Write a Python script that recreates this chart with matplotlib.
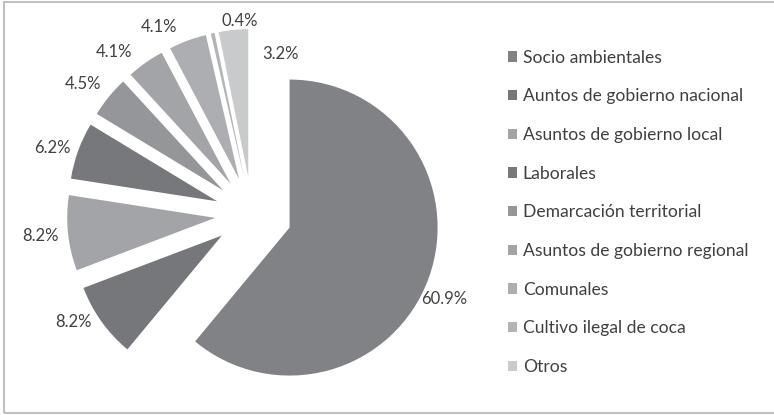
import numpy as np
import matplotlib
matplotlib.use("Agg")
import matplotlib.pyplot as plt
from matplotlib.patches import Rectangle

plt.rcParams['font.family'] = ['Lato', 'DejaVu Sans']

# data
categorias = ['Socio ambientales', 'Auntos de gobierno nacional', 'Asuntos de gobierno local',
              'Laborales', 'Demarcación territorial', 'Asuntos de gobierno regional',
              'Comunales', 'Cultivo ilegal de coca', 'Otros']
porcentajes = [60.9, 8.2, 8.2, 6.2, 4.5, 4.1, 4.1, 0.4, 3.2]

# style
colores = ['#818286', '#76777b', '#a3a4a7', '#77787c', '#95969a',
           '#a3a4a7', '#adaeb1', '#b3b4b6', '#c9cacc']
explode = [0.27, 0.25, 0.25, 0.25, 0.25, 0.25, 0.25, 0.25, 0.25]
# where each percentage label sits (angle shift from slice middle, distance in radii)
lab_shift = [-4, -4.5, 0, 1.7, 1.8, 5.3, 6, -8.6, -16]
lab_dist = [1.42, 1.41, 1.44, 1.42, 1.44, 1.44, 1.41, 1.31, 1.10]

W, H = 774, 415
cx, cy, r_px = 252, 415 - 214, 148

fig = plt.figure(figsize=(W / 100, H / 100), dpi=100)
ax = fig.add_axes([0, 0, 1, 1])

wedges, _ = ax.pie(porcentajes, colors=colores, explode=explode, startangle=90,
                   counterclock=False, radius=1,
                   wedgeprops=dict(linewidth=0))
ax.set_aspect('auto')
ax.set_xlim(-cx / r_px, (W - cx) / r_px)
ax.set_ylim(-cy / r_px, (H - cy) / r_px)
ax.axis('off')

for w, val, sh, d in zip(wedges, porcentajes, lab_shift, lab_dist):
    ang = np.deg2rad((w.theta1 + w.theta2) / 2 + sh)
    ax.text(d * np.cos(ang), d * np.sin(ang), f'{val:.1f}%',
            ha='center', va='center', fontsize=12, color='#404040')

leg = fig.legend(wedges, categorias, loc='upper left',
                 bbox_to_anchor=(492 / W, 1 - 34 / H), frameon=False,
                 fontsize=12.6, labelcolor='#404040',
                 handlelength=0.55, handleheight=0.55, handletextpad=0.3,
                 labelspacing=1.295)

# outer frame
fig.patches.append(Rectangle((4 / W, 2 / H), 1, 1 - 4 / H, transform=fig.transFigure,
                             fill=False, edgecolor='#c0c0c0', linewidth=1.5))

fig.savefig('out.png', dpi=100)
